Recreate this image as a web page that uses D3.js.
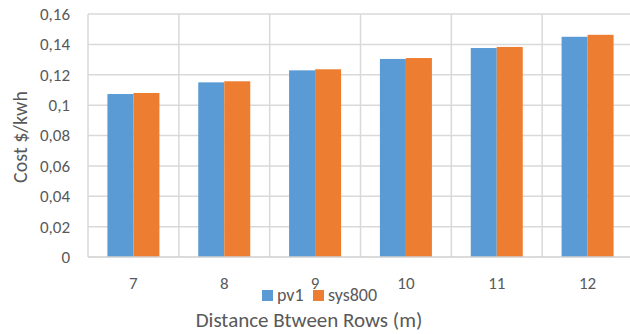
<!DOCTYPE html>
<html>
<head>
<meta charset="utf-8">
<script src="https://cdn.jsdelivr.net/npm/d3@7"></script>
<style>
  html, body { margin: 0; padding: 0; background: #fff; }
  svg { display: block; }
  text { font-family: Carlito, Lato, "Open Sans", sans-serif; fill: #595959; }
</style>
</head>
<body>
<svg id="chart" width="630" height="334"></svg>
<script>
// Levelized cost per kWh by row spacing
const categories = ["7", "8", "9", "10", "11", "12"];
const seriesNames = ["pv1", "sys800"];
const pv1 = [0.1073, 0.1150, 0.1229, 0.1304, 0.1376, 0.1450];
const sys800 = [0.1080, 0.1157, 0.1236, 0.1310, 0.1383, 0.1463];
const yTicks = [0, 0.02, 0.04, 0.06, 0.08, 0.10, 0.12, 0.14, 0.16];
const yTickLabels = ["0", "0,02", "0,04", "0,06", "0,08", "0,1", "0,12", "0,14", "0,16"];
const colors = ["#5b9bd5", "#ed7d31"];

const svg = d3.select("#chart");
const plotLeft = 88, plotRight = 633, plotTop = 14, plotBottom = 257;
const fontStack = "Carlito, Lato, 'Open Sans', sans-serif";

const x = d3.scaleBand().domain(categories).range([plotLeft, plotRight])
  .paddingInner(0.4275).paddingOuter(0.21375);
const xSub = d3.scaleBand().domain(seriesNames).range([0, x.bandwidth()]);
const y = d3.scaleLinear().domain([0, 0.16]).range([plotBottom, plotTop]);
const step = x.step();

// horizontal gridlines
svg.append("g").selectAll("line").data(yTicks.slice(1)).join("line")
  .attr("x1", plotLeft).attr("x2", plotRight)
  .attr("y1", d => y(d)).attr("y2", d => y(d))
  .attr("stroke", "#d9d9d9").attr("stroke-width", 1.5);

// vertical gridlines at category boundaries
svg.append("g").selectAll("line").data(d3.range(categories.length + 1)).join("line")
  .attr("x1", i => plotLeft + i * step).attr("x2", i => plotLeft + i * step)
  .attr("y1", plotTop).attr("y2", plotBottom)
  .attr("stroke", "#d9d9d9").attr("stroke-width", 1.5);

// bars
const rows = categories.map((c, i) => ({ c, vals: [pv1[i], sys800[i]] }));
const groups = svg.append("g").selectAll("g").data(rows).join("g")
  .attr("transform", d => `translate(${x(d.c)},0)`);
groups.selectAll("rect").data(d => d.vals.map((v, k) => ({ v, k }))).join("rect")
  .attr("x", d => xSub(seriesNames[d.k]))
  .attr("width", xSub.bandwidth())
  .attr("y", d => y(d.v))
  .attr("height", d => plotBottom - y(d.v))
  .attr("fill", d => colors[d.k]);

// baseline
svg.append("line").attr("x1", plotLeft).attr("x2", plotRight)
  .attr("y1", plotBottom).attr("y2", plotBottom)
  .attr("stroke", "#cfcfcf").attr("stroke-width", 1.5);

// y axis labels
const yAxis = d3.axisLeft(y).tickValues(yTicks)
  .tickFormat((d, i) => yTickLabels[i]).tickSize(0).tickPadding(0);
const gy = svg.append("g").attr("transform", `translate(70,0)`).call(yAxis);
gy.select(".domain").remove();
gy.selectAll("text").style("font-size", "17px").attr("fill", "#595959")
  .style("font-family", fontStack);

// x axis labels
const xAxis = d3.axisBottom(x).tickSize(0).tickPadding(0);
const gx = svg.append("g").attr("transform", `translate(0,277)`).call(xAxis);
gx.select(".domain").remove();
gx.selectAll("text").style("font-size", "17px").attr("fill", "#595959")
  .style("font-family", fontStack);

// legend
const legend = svg.append("g");
const legendItems = [{ name: "pv1", x: 262 }, { name: "sys800", x: 313 }];
legendItems.forEach((it, k) => {
  legend.append("rect").attr("x", it.x).attr("y", 290).attr("width", 11).attr("height", 11)
    .attr("fill", colors[k]);
  legend.append("text").attr("x", it.x + 15).attr("y", 301)
    .style("font-size", "18px").text(it.name);
});

// axis titles
svg.append("text").attr("x", 309).attr("y", 327).attr("text-anchor", "middle")
  .style("font-size", "21px").text("Distance Btween Rows (m)");
svg.append("text").attr("transform", "translate(27,137) rotate(-90)")
  .attr("text-anchor", "middle").style("font-size", "20px").text("Cost $/kwh");
</script>
</body>
</html>
